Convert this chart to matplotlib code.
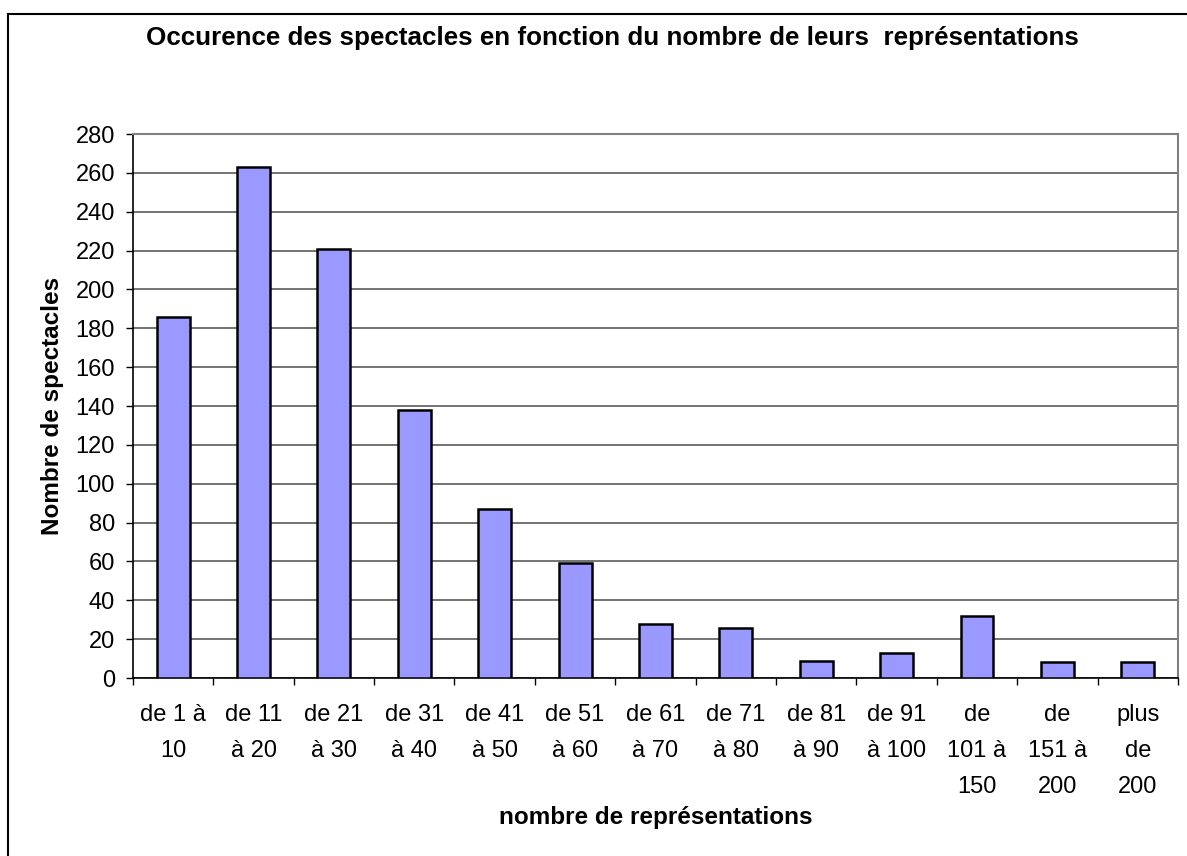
import numpy as np
import matplotlib.pyplot as plt
from matplotlib.patches import Rectangle

plt.rcParams['font.family'] = ['Liberation Sans', 'DejaVu Sans']

# data
categories = ["de 1 à\n10", "de 11\nà 20", "de 21\nà 30", "de 31\nà 40", "de 41\nà 50",
              "de 51\nà 60", "de 61\nà 70", "de 71\nà 80", "de 81\nà 90", "de 91\nà 100",
              "de\n101 à\n150", "de\n151 à\n200", "plus\nde\n200"]
counts = [186, 263, 221, 138, 87, 59, 28, 26, 9, 13, 32, 8, 8]
yticks = list(range(0, 281, 20))

fig = plt.figure(figsize=(11.87, 8.56), dpi=100)
ax = fig.add_axes([0.1120, 0.2079, 0.8804, 0.6355])

x = np.arange(len(categories))
ax.bar(x, counts, width=0.41, color='#9999FF', edgecolor='black', linewidth=1.8, zorder=3)

ax.set_xlim(-0.5, len(categories) - 0.5)
ax.set_ylim(0, 280)
ax.set_yticks(yticks)
ax.set_yticklabels([str(v) for v in yticks], fontsize=17)
ax.yaxis.grid(True, color='0.3', linewidth=1.1, zorder=0)

# tick marks between categories, labels centred under bars
ax.set_xticks(np.arange(len(categories) + 1) - 0.5)
ax.set_xticklabels([])
ax.set_xticks(x, minor=True)
ax.set_xticklabels(categories, minor=True, fontsize=17, linespacing=1.8, va='top')
ax.tick_params(axis='x', which='minor', length=0, pad=19)
ax.tick_params(axis='x', which='major', length=5, width=1, direction='out')
ax.tick_params(axis='y', length=5, width=1, direction='out', pad=8)

for side in ['top', 'right']:
    ax.spines[side].set_color('0.5')
    ax.spines[side].set_linewidth(1.5)
for side in ['left', 'bottom']:
    ax.spines[side].set_color('black')
    ax.spines[side].set_linewidth(1.2)

ax.set_xlabel("nombre de représentations", fontsize=17.5, fontweight='bold', va='center')
ax.xaxis.set_label_coords(0.5, -0.2555)
ax.set_ylabel("Nombre de spectacles", fontsize=17.5, fontweight='bold', va='center')
ax.yaxis.set_label_coords(-0.0765, 0.5)
fig.text(0.5156, 0.9556, "Occurence des spectacles en fonction du nombre de leurs  représentations",
         ha='center', va='center', fontsize=18.7, fontweight='bold')

# chart area border (only left and top edges fall inside the picture)
fig.patches.append(Rectangle((8 / 1187, -0.1), 1.1, 0.9836 + 0.1, transform=fig.transFigure,
                             fill=False, edgecolor='black', linewidth=1.5))

fig.savefig('out.png', dpi=100)
